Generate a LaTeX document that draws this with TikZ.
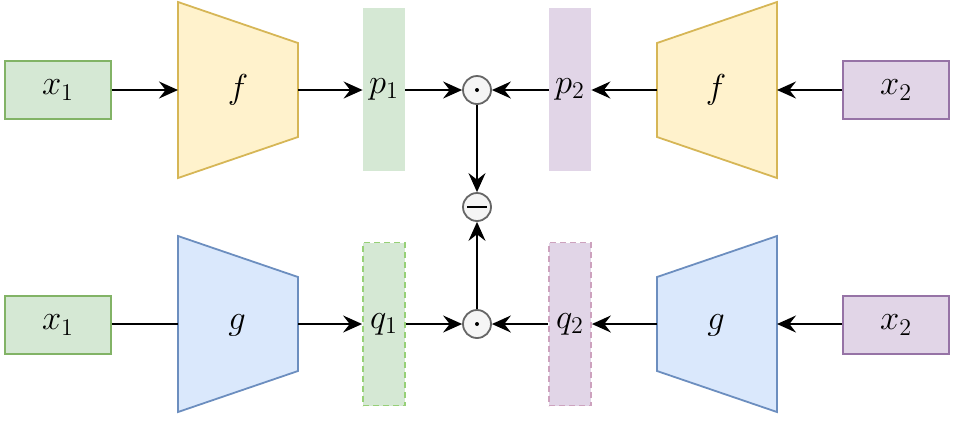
\documentclass[tikz,border=0pt]{standalone}
\usetikzlibrary{arrows.meta}
\definecolor{gfill}{HTML}{D5E8D4}\definecolor{gline}{HTML}{82B366}
\definecolor{yfill}{HTML}{FFF2CC}\definecolor{yline}{HTML}{D6B656}
\definecolor{bfill}{HTML}{DAE8FC}\definecolor{bline}{HTML}{6C8EBF}
\definecolor{pfill}{HTML}{E1D5E7}\definecolor{pline}{HTML}{9673A6}
\definecolor{cfill}{HTML}{F5F5F5}\definecolor{cline}{HTML}{666666}
\definecolor{gdash}{HTML}{97D077}\definecolor{pdash}{HTML}{CDA2BE}
\tikzset{
  txt/.style={font=\fontsize{17}{20}\selectfont},
  inbox/.style={txt, rectangle, minimum width=53pt, minimum height=29pt, inner sep=0pt, line width=0.9pt},
  gbox/.style={inbox, fill=gfill, draw=gline},
  pbox/.style={inbox, fill=pfill, draw=pline},
  bar/.style={txt, rectangle, minimum width=21pt, minimum height=81.5pt, inner sep=0pt},
  gbar/.style={bar, fill=gfill},
  pbar/.style={bar, fill=pfill},
  gdbar/.style={bar, fill=gfill, draw=gdash, dash pattern=on 3pt off 2pt, line width=0.9pt},
  pdbar/.style={bar, fill=pfill, draw=pdash, dash pattern=on 3pt off 2pt, line width=0.9pt},
  op/.style={circle, minimum size=14pt, inner sep=0pt, fill=cfill, draw=cline, line width=0.9pt},
  yshape/.style={fill=yfill, draw=yline, line width=0.9pt},
  bshape/.style={fill=bfill, draw=bline, line width=0.9pt},
  conn/.style={line width=1pt, -{Stealth[length=9.5pt,width=8.5pt,inset=3.3pt]}},
  plain/.style={line width=1pt},
  lbl/.style={txt, inner sep=0pt}
}
\begin{document}
\begin{tikzpicture}[x=0.5pt,y=-0.5pt]
\useasboundingbox (0,0) rectangle (953,420);
% top row
\node[gbox] (x1a) at (58,90) {$x_1$};
\draw[yshape] (178,2) -- (298,43) -- (298,137) -- (178,178) -- cycle;
\node[lbl] (fa) at (238,90) {$f$};
\coordinate (fain) at (178,90); \coordinate (faout) at (298,90);
\node[gbar] (p1) at (384,89.5) {$p_1$};
\node[op] (m1) at (477,90) {};
\fill (m1.center) circle (1pt);
\node[pbar] (p2) at (570,89.5) {$p_2$};
\draw[yshape] (777,2) -- (657,43) -- (657,137) -- (777,178) -- cycle;
\node[lbl] (fb) at (716,90) {$f$};
\coordinate (fbin) at (777,90); \coordinate (fbout) at (657,90);
\node[pbox] (x2a) at (896,90) {$x_2$};
% middle
\node[op] (sub) at (477,207) {};
\draw[line width=1pt] ([xshift=-4.8pt]sub.center) -- ([xshift=4.8pt]sub.center);
% bottom row
\node[gbox] (x1b) at (58,325) {$x_1$};
\draw[bshape] (178,236) -- (298,277) -- (298,371) -- (178,412) -- cycle;
\node[lbl] (ga) at (237,325) {$g$};
\coordinate (gain) at (178,324); \coordinate (gaout) at (298,324);
\node[gdbar] (q1) at (384,324) {$q_1$};
\node[op] (m2) at (477,324) {};
\fill (m2.center) circle (1pt);
\node[pdbar] (q2) at (570,324) {$q_2$};
\draw[bshape] (777,236) -- (657,277) -- (657,371) -- (777,412) -- cycle;
\node[lbl] (gb) at (716,325) {$g$};
\coordinate (gbin) at (777,324); \coordinate (gbout) at (657,324);
\node[pbox] (x2b) at (896,325) {$x_2$};
% connectors top
\draw[conn] (x1a.east) -- (fain);
\draw[conn] (faout) -- (p1.west |- faout);
\draw[conn] (p1.east |- m1) -- (m1.west);
\draw[conn] (p2.west |- m1) -- (m1.east);
\draw[conn] (fbout) -- (p2.east |- fbout);
\draw[conn] (x2a.west) -- (fbin);
\draw[conn] (m1.south) -- (sub.north);
% connectors bottom
\draw[plain] (x1b.east |- gain) -- (gain);
\draw[conn] (gaout) -- (q1.west |- gaout);
\draw[conn] (q1.east |- m2) -- (m2.west);
\draw[conn] (q2.west |- m2) -- (m2.east);
\draw[conn] (gbout) -- (q2.east |- gbout);
\draw[conn] (x2b.west |- gbin) -- (gbin);
\draw[conn] (m2.north) -- (sub.south);
\end{tikzpicture}
\end{document}
